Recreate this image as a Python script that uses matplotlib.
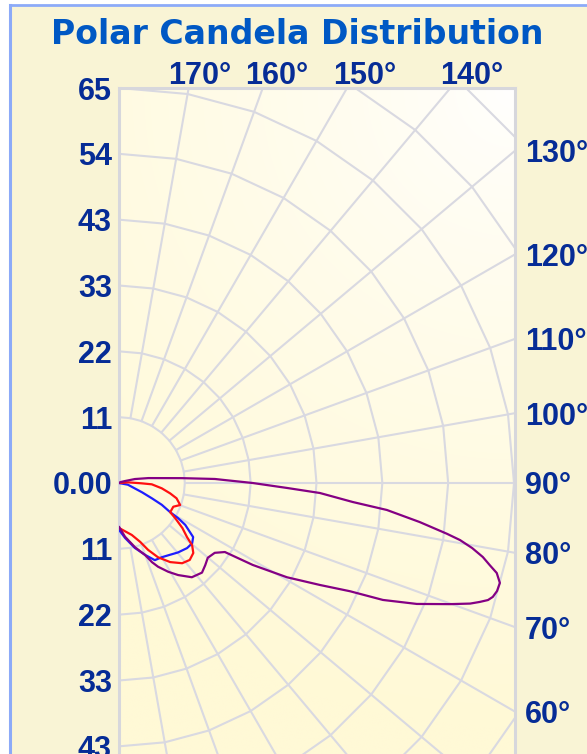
import numpy as np
import matplotlib
matplotlib.use("Agg")
import matplotlib.pyplot as plt
from matplotlib.lines import Line2D
from matplotlib.patches import Rectangle
from matplotlib.transforms import offset_copy

# ---------------- data (vertical angle in degrees, candela) ----------------
title = "Polar Candela Distribution"

angles_purple = [0, 6.4, 14, 19.9, 22.6, 25, 29, 32.7, 37.7, 42.8, 46.4, 49.9, 53.9,
                 56.9, 58.5, 60.7, 63.1, 64.9, 66.1, 67.9, 69.9, 71.05, 71.75, 72.4,
                 73.05, 74.05, 75.3, 76.6, 77.5, 78.5, 79.56, 80.5, 81.2, 82.6, 84.25,
                 85.35, 87.15, 88.3, 90, 91.6, 92.4, 94.4, 99.5, 104, 108.4, 120, 180]
cd_purple = [7.2, 8.9, 10.9, 12.6, 14.1, 15.2, 16.7, 18.0, 19.6, 20.1, 19.6, 19.1, 19.5,
             20.8, 25.8, 31.7, 37.1, 42.0, 47.5, 52.9, 58.0, 61.1, 62.5, 63.7,
             64.3, 64.7, 64.8, 63.9, 62.5, 61.1, 59.1, 56.9, 54.6, 49.9, 44.3,
             38.6, 33.1, 27.7, 22.0, 17.4, 15.8, 10.4, 4.9, 2.7, 1.0, 0.3, 0.0]

angles_red = [0, 13.8, 19.8, 23.5, 27.7, 32.9, 38.2, 42.6, 46.7, 49.6, 51.5, 54.6, 58,
              60.3, 66.4, 70.2, 75.1, 78.5, 82.9, 87.7, 89.2, 94, 100, 180]
cd_red = [7.4, 8.8, 10.3, 12.0, 13.8, 15.5, 16.8, 17.2, 16.8, 15.8, 14.3, 12.8, 10.9,
          9.7, 9.75, 10.7, 9.8, 8.6, 7.1, 5.4, 3.7, 1.5, 0.0, 0.0]

angles_blue = [0, 6.3, 13.7, 20, 24.9, 30, 35.5, 40.4, 46.3, 50.5, 53.9, 55.3, 57.7,
               59.3, 60.3, 63, 65, 68, 79, 90, 180]
cd_blue = [7.7, 9.1, 11.0, 12.6, 14.0, 14.1, 14.5, 15.0, 15.5, 15.6, 15.1, 14.2, 12.9,
           11.3, 9.7, 7.9, 6.0, 4.1, 1.5, 0.0, 0.0]

r_max = 65.0
n_rings = 6
ring_labels_up = ["0.00", "11", "22", "33", "43", "54", "65"]
ring_labels_down = ["11", "22", "33", "43"]
top_angle_labels = [170, 160, 150, 140]
right_angle_labels = [130, 120, 110, 100, 90, 80, 70, 60]

# ---------------- layout ----------------
W, H, DPI = 587, 754, 100
fig = plt.figure(figsize=(W / DPI, H / DPI), dpi=DPI)
fig.patch.set_facecolor("white")

cream = "#F9F4D5"
fig.patches.append(Rectangle((10 / W, 0), 1, 1 - 5 / H, transform=fig.transFigure,
                             facecolor=cream, edgecolor="none", zorder=-10))
fig.lines.append(Line2D([10 / W, 1], [1 - 5 / H, 1 - 5 / H], transform=fig.transFigure,
                        color="#8CAAF8", lw=2.0, zorder=-5))
fig.lines.append(Line2D([10 / W, 10 / W], [0, 1 - 5 / H], transform=fig.transFigure,
                        color="#8CAAF8", lw=2.2, zorder=-5))

px0, px1, py_top, pole_y = 119, 515, 88, 483
ppu = (pole_y - py_top) / r_max
xmax = (px1 - px0) / ppu
ymin = -(H - pole_y) / ppu

ax = fig.add_axes([px0 / W, 0, (px1 - px0) / W, (H - py_top) / H])
ax.set_xlim(0, xmax)
ax.set_ylim(ymin, r_max)
ax.set_xticks([])
ax.set_yticks([])
for s in ["left", "top", "right"]:
    ax.spines[s].set_color("#D7D7DC")
    ax.spines[s].set_linewidth(2.2)
ax.spines["bottom"].set_visible(False)

# background gradient (white at top-right to pale cream)
gx = np.linspace(0, xmax, 200)
gy = np.linspace(ymin, r_max, 300)
GX, GY = np.meshgrid(gx, gy)
d = np.sqrt((xmax - GX) ** 2 + (r_max - GY) ** 2) / 105.0
t = np.clip(d, 0, 1) ** 0.75
c0 = np.array([255, 255, 255]) / 255
c1 = np.array([255, 249, 214]) / 255
img = c0[None, None, :] * (1 - t[..., None]) + c1[None, None, :] * t[..., None]
ax.imshow(img, extent=[0, xmax, ymin, r_max], origin="lower", aspect="auto",
          zorder=0, interpolation="bilinear")

grid_c = "#D9D9E1"
step = r_max / n_rings
ring_ang = np.radians(np.arange(0, 181, 10))
for k in range(1, 9):
    rr = k * step
    ax.plot(rr * np.sin(ring_ang), -rr * np.cos(ring_ang), color=grid_c, lw=1.5,
            zorder=1, solid_joinstyle="miter")
for a in np.arange(0, 181, 10):
    th = np.radians(a)
    ax.plot([step * np.sin(th), 130 * np.sin(th)], [-step * np.cos(th), -130 * np.cos(th)],
            color=grid_c, lw=1.5, zorder=1)


def draw(angles, cd, color):
    th = np.radians(np.array(angles, dtype=float))
    r = np.array(cd, dtype=float)
    ax.plot(r * np.sin(th), -r * np.cos(th), color=color, lw=1.6, zorder=3,
            solid_joinstyle="round", solid_capstyle="round")


draw(angles_blue, cd_blue, "#1E1EFF")
draw(angles_red, cd_red, "#FF1010")
draw(angles_purple, cd_purple, "#840084")

lab_c = "#062C96"
lab_font = dict(family="Liberation Sans", size=22, weight="bold", color=lab_c)

tr_left = offset_copy(ax.transData, fig=fig, x=-7, y=0, units="dots")
for i, lab in enumerate(ring_labels_up):
    ax.text(0, i * step, lab, transform=tr_left, ha="right", va="center_baseline",
            clip_on=False, **lab_font)
for i, lab in enumerate(ring_labels_down):
    ax.text(0, -(i + 1) * step, lab, transform=tr_left, ha="right",
            va="center_baseline", clip_on=False, **lab_font)

tr_right = offset_copy(ax.transData, fig=fig, x=10, y=0, units="dots")
for a in right_angle_labels:
    th = np.radians(a)
    yy = -xmax * np.cos(th) / np.sin(th)
    ax.text(xmax, yy, f"{a}°", transform=tr_right, ha="left", va="center_baseline",
            clip_on=False, **lab_font)

tr_top = offset_copy(ax.transData, fig=fig, x=8, y=0, units="dots")
y_lab = r_max + 16 / ppu
for a in top_angle_labels:
    th = np.radians(a)
    xx = -y_lab * np.sin(th) / np.cos(th)
    ax.text(xx, y_lab, f"{a}°", transform=tr_top, ha="center", va="center_baseline",
            clip_on=False, **lab_font)

fig.text(297.5 / W, 1 - 44 / H, title, ha="center", va="baseline",
         family="DejaVu Sans", weight="bold", size=23.9, color="#0058C4")

fig.savefig("out.png", dpi=DPI, facecolor=fig.get_facecolor())
